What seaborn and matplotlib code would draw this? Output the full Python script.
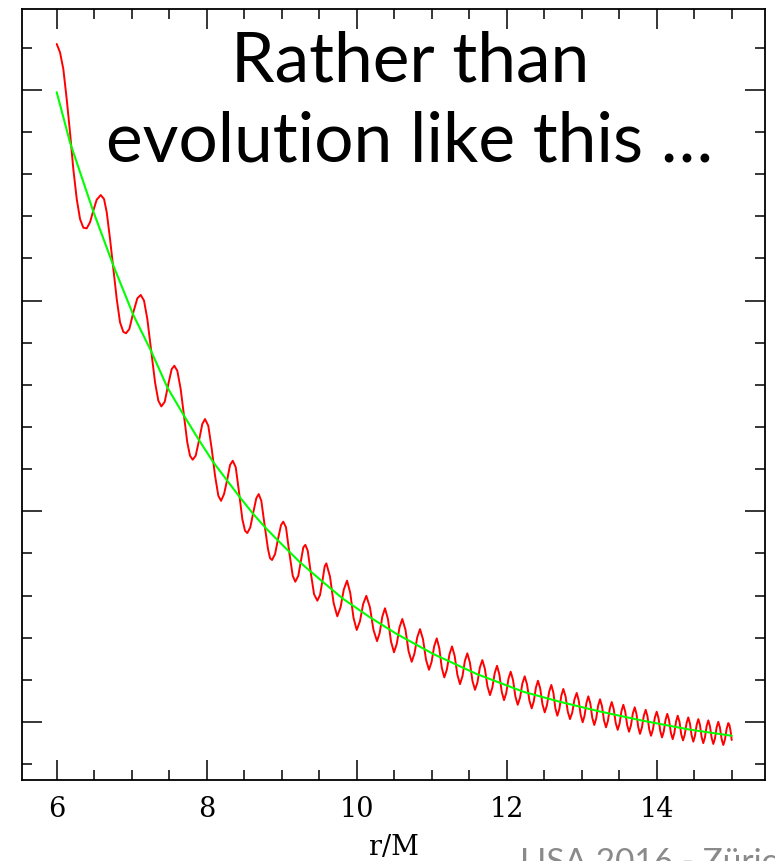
import numpy as np
import pandas as pd
import seaborn as sns
import matplotlib.pyplot as plt
from matplotlib.ticker import MultipleLocator

# Oscillating orbit (red) and its secular trend (green), arbitrary vertical units
red_r = [6.000, 6.044, 6.088, 6.133, 6.177, 6.221, 6.267, 6.311, 6.355, 6.400,
         6.444, 6.488, 6.533, 6.587, 6.631, 6.667, 6.711, 6.755, 6.800, 6.844,
         6.888, 6.924, 6.968, 7.021, 7.075, 7.120, 7.164, 7.208, 7.257, 7.311,
         7.355, 7.395, 7.440, 7.493, 7.533, 7.568, 7.608, 7.653, 7.697, 7.741,
         7.777, 7.813, 7.853, 7.901, 7.941, 7.977, 8.021, 8.067, 8.111, 8.155,
         8.191, 8.231, 8.275, 8.311, 8.347, 8.387, 8.431, 8.475, 8.511, 8.541,
         8.581, 8.621, 8.661, 8.693, 8.728, 8.773, 8.817, 8.844, 8.871, 8.911,
         8.951, 8.991, 9.021, 9.057, 9.101, 9.147, 9.181, 9.221, 9.257, 9.288,
         9.315, 9.347, 9.387, 9.431, 9.475, 9.511, 9.547, 9.573, 9.595,
         9.644, 9.692, 9.741, 9.784, 9.828, 9.871, 9.914, 9.957,
         10.000, 10.043, 10.085, 10.128, 10.176, 10.223, 10.271, 10.306, 10.342,
         10.377, 10.417, 10.457, 10.497, 10.534, 10.571, 10.608, 10.650, 10.691,
         10.733, 10.770, 10.807, 10.844, 10.884, 10.924, 10.964, 10.998, 11.033,
         11.067, 11.101, 11.134, 11.168, 11.202, 11.237, 11.271, 11.306, 11.342,
         11.377, 11.410, 11.442, 11.475, 11.509, 11.543, 11.577, 11.610, 11.642,
         11.675, 11.709, 11.743, 11.777, 11.808, 11.840, 11.871, 11.902, 11.933,
         11.964, 11.994, 12.023, 12.053, 12.084, 12.116, 12.147, 12.178, 12.209,
         12.240, 12.271, 12.302, 12.333, 12.361, 12.389, 12.417, 12.447, 12.477,
         12.507, 12.536, 12.566, 12.595, 12.622, 12.648, 12.675, 12.702, 12.728,
         12.755, 12.785, 12.814, 12.844, 12.874, 12.903, 12.933, 12.960, 12.986,
         13.013, 13.038, 13.063, 13.088, 13.115, 13.141, 13.168, 13.193, 13.219,
         13.244, 13.271, 13.297, 13.324, 13.349, 13.375, 13.400, 13.427, 13.453,
         13.480, 13.505, 13.530, 13.555, 13.580, 13.606, 13.631, 13.656, 13.682,
         13.707, 13.730, 13.754, 13.777, 13.802, 13.828, 13.853, 13.877, 13.900,
         13.924, 13.949, 13.975, 14.000, 14.024, 14.047, 14.071, 14.094, 14.118,
         14.141, 14.165, 14.189, 14.213, 14.235, 14.258, 14.280, 14.304, 14.327,
         14.351, 14.374, 14.398, 14.421, 14.443, 14.466, 14.488, 14.510, 14.533,
         14.555, 14.577, 14.599, 14.621, 14.643, 14.666, 14.688, 14.710, 14.733,
         14.755, 14.777, 14.799, 14.821, 14.843, 14.866, 14.888, 14.910, 14.933,
         14.955, 14.970, 14.985, 15.000]
red_y = [4.218, 4.178, 4.099, 3.957, 3.799, 3.625, 3.482, 3.387, 3.346, 3.343,
         3.372, 3.427, 3.479, 3.501, 3.482, 3.419, 3.292, 3.150, 3.008, 2.897,
         2.852, 2.845, 2.865, 2.944, 3.011, 3.027, 3.000, 2.913, 2.770, 2.612,
         2.525, 2.498, 2.520, 2.612, 2.675, 2.691, 2.667, 2.580, 2.454, 2.327,
         2.264, 2.245, 2.264, 2.343, 2.414, 2.438, 2.406, 2.296, 2.169, 2.074,
         2.050, 2.082, 2.153, 2.220, 2.240, 2.209, 2.090, 1.963, 1.908, 1.897,
         1.924, 1.995, 2.062, 2.082, 2.050, 1.932, 1.821, 1.778, 1.769, 1.797,
         1.869, 1.935, 1.951, 1.924, 1.805, 1.694, 1.666, 1.694, 1.766, 1.829,
         1.841, 1.813, 1.710, 1.607, 1.576, 1.603, 1.679, 1.739, 1.753,
         1.690, 1.565, 1.502, 1.544, 1.629, 1.671, 1.613, 1.495,
         1.437, 1.478, 1.559, 1.599, 1.545, 1.438, 1.384, 1.423, 1.501,
         1.540, 1.488, 1.383, 1.331, 1.371, 1.450, 1.489, 1.438, 1.337,
         1.286, 1.325, 1.402, 1.441, 1.393, 1.296, 1.248, 1.285, 1.360,
         1.397, 1.351, 1.258, 1.212, 1.249, 1.322, 1.359, 1.314, 1.225,
         1.180, 1.217, 1.290, 1.326, 1.283, 1.196, 1.153, 1.188, 1.259,
         1.294, 1.253, 1.170, 1.128, 1.163, 1.232, 1.267, 1.226, 1.145,
         1.104, 1.138, 1.205, 1.239, 1.200, 1.121, 1.082, 1.116, 1.183,
         1.217, 1.179, 1.103, 1.065, 1.098, 1.163, 1.196, 1.159, 1.084,
         1.046, 1.079, 1.144, 1.176, 1.140, 1.067, 1.030, 1.062, 1.125,
         1.157, 1.121, 1.050, 1.014, 1.045, 1.107, 1.138, 1.103, 1.034,
         0.999, 1.030, 1.091, 1.122, 1.088, 1.020, 0.986, 1.017, 1.078,
         1.108, 1.075, 1.008, 0.975, 1.005, 1.065, 1.095, 1.062, 0.996,
         0.963, 0.993, 1.052, 1.082, 1.050, 0.986, 0.954, 0.983, 1.041,
         1.070, 1.039, 0.976, 0.944, 0.973, 1.030, 1.058, 1.027, 0.966,
         0.935, 0.964, 1.021, 1.049, 1.019, 0.958, 0.927, 0.955, 1.011,
         1.039, 1.009, 0.949, 0.919, 0.947, 1.002, 1.030, 1.001, 0.942,
         0.913, 0.940, 0.995, 1.022, 0.993, 0.936, 0.907, 0.934, 0.987,
         1.014, 0.986, 0.929, 0.900, 0.927, 0.981, 1.008, 0.980, 0.924,
         0.896, 0.922, 0.975, 1.001, 0.974, 0.919, 0.891, 0.917, 0.969,
         0.995, 0.985, 0.958, 0.915]

green_r = [6.000, 6.177, 6.488, 6.760, 7.021, 7.257, 7.475, 7.697, 7.888, 8.088,
           8.275, 8.444, 8.621, 8.800, 8.955, 9.244, 9.555, 9.821, 10.177, 10.533,
           11.021, 11.600, 12.221, 12.711, 13.244, 13.821, 14.444, 15.000]
green_y = [3.989, 3.751, 3.423, 3.162, 2.932, 2.762, 2.588, 2.454, 2.343, 2.233,
           2.145, 2.066, 1.987, 1.916, 1.860, 1.758, 1.663, 1.584, 1.497, 1.418,
           1.323, 1.228, 1.144, 1.096, 1.050, 1.006, 0.964, 0.935]

x_ticks = [6, 8, 10, 12, 14]

sns.set_theme(style="ticks")
plt.rcParams["font.family"] = ["DejaVu Serif"]

fig = plt.figure(figsize=(7.75, 8.62), dpi=100)
ax = fig.add_axes([22 / 775, 81 / 862, 743 / 775, 771 / 862])

red_df = pd.DataFrame({"r": red_r, "y": red_y})
green_df = pd.DataFrame({"r": green_r, "y": green_y})

sns.lineplot(data=red_df, x="r", y="y", sort=False, estimator=None,
             color="#ff0000", linewidth=1.4, ax=ax)
sns.lineplot(data=green_df, x="r", y="y", sort=False, estimator=None,
             color="#00ff00", linewidth=1.5, ax=ax)

ax.set_xlim(5.537, 15.444)
ax.set_ylim(0.725, 4.384)
ax.set_xticks(x_ticks)
ax.set_xticklabels([str(t) for t in x_ticks])
ax.xaxis.set_minor_locator(MultipleLocator(0.5))
ax.yaxis.set_major_locator(MultipleLocator(1.0))
ax.yaxis.set_minor_locator(MultipleLocator(0.2))

for side in ax.spines.values():
    side.set_linewidth(1.3)
    side.set_color("black")

ax.tick_params(which="both", direction="in", top=True, right=True,
               labelleft=False, color="black", width=1.1)
ax.tick_params(which="major", length=14.4, pad=11, labelsize=19.5,
               labelcolor="black")
ax.tick_params(which="minor", length=7.2)

ax.set_ylabel("")
ax.set_xlabel("r/M", fontsize=19.5, color="black", labelpad=8)

fig.text(410 / 775, (862 - 82) / 862, "Rather than", family="Lato",
         fontsize=50, ha="center", va="baseline", color="black")
fig.text(410 / 775, (862 - 161.7) / 862, "evolution like this \u2026",
         family="Lato", fontsize=50, ha="center", va="baseline", color="black")

fig.text(520 / 775, (862 - 872) / 862, "LISA 2016 - Z\u00fcrich", family="Lato",
         fontsize=24, ha="left", va="baseline", color="#8a8a8a")

fig.savefig("out.png", dpi=100)
